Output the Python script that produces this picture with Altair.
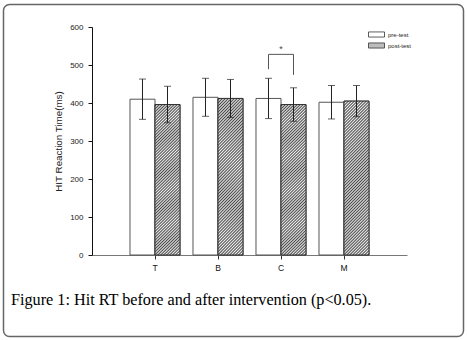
import altair as alt
import pandas as pd

# ---- data ----
categories = ["T", "B", "C", "M"]
groups = ["pre-test", "post-test"]
pre_mean = [410, 415, 412, 402]
pre_sd = [53, 50, 53, 44]
post_mean = [396, 412, 396, 405]
post_sd = [48, 50, 44, 41]
y_ticks = [0, 100, 200, 300, 400, 500, 600]

bracket_cat = "C"
bracket_top = 528
bracket_left_bottom = 489
bracket_right_bottom = 474
star_value = 541

y_title = "HIT Reaction Time(ms)"
caption = "Figure 1: Hit RT before and after intervention (p<0.05)."

# ---- tables ----
rows = []
for i, c in enumerate(categories):
    rows.append(dict(cat=c, grp="pre-test", mean=pre_mean[i],
                     lo=pre_mean[i] - pre_sd[i], hi=pre_mean[i] + pre_sd[i]))
    rows.append(dict(cat=c, grp="post-test", mean=post_mean[i],
                     lo=post_mean[i] - post_sd[i], hi=post_mean[i] + post_sd[i]))
df = pd.DataFrame(rows)

bracket_df = pd.DataFrame({
    "cat": [bracket_cat] * 4,
    "grp": ["pre-test", "pre-test", "post-test", "post-test"],
    "v": [bracket_left_bottom, bracket_top, bracket_top, bracket_right_bottom],
    "o": [0, 1, 2, 3],
})
star_df = pd.DataFrame({"cat": [bracket_cat], "v": [star_value], "t": ["*"]})
one_df = pd.DataFrame({"t": [caption]})

# ---- hatch fill (diagonal stripes via a soft triangle-wave gradient) ----
period_count = 60
stops = []
for k in range(period_count):
    a = k / period_count
    m = (k + 0.5) / period_count
    stops += [
        {"offset": a, "color": "#eeeeee"},
        {"offset": m, "color": "#4a4a4a"},
    ]
stops.append({"offset": 1, "color": "#eeeeee"})
hatch_fill = {"gradient": "linear", "x1": 0, "y1": 0, "x2": 0.185, "y2": 1.133,
              "stops": stops}

# ---- scales / encodings ----
xscale = alt.Scale(domain=categories, paddingInner=0.206, paddingOuter=0.603)
xoffscale = alt.Scale(domain=groups, paddingInner=0, paddingOuter=0)
yscale = alt.Scale(domain=[0, 600], nice=False, zero=True)

xaxis = alt.Axis(title=None, labelAngle=0, domainColor="#777", domainWidth=1,
                 tickColor="#333", tickSize=4, labelPadding=4, labelFontSize=8.5,
                 labelColor="#111", labelFont="Liberation Sans", grid=False)
yaxis = alt.Axis(values=y_ticks, title=y_title, grid=False, domainColor="#111",
                 tickColor="#111", tickSize=4, labelPadding=5, labelFontSize=8,
                 labelColor="#222", labelFont="Liberation Sans",
                 titleFont="Liberation Sans", titleFontSize=9.8,
                 titleFontWeight="normal", titleColor="#222", titlePadding=6)

X = alt.X("cat:N", scale=xscale, sort=categories, axis=xaxis)
XO = alt.XOffset("grp:N", scale=xoffscale, sort=groups)

legend = alt.Legend(title=None, orient="none", legendX=280, legendY=3,
                    symbolType="M-2,-0.64H2V0.64H-2Z", symbolSize=64,
                    symbolStrokeColor="#333", symbolStrokeWidth=0.8,
                    labelFontSize=6, labelFont="Liberation Sans",
                    labelColor="#222", labelOffset=7, rowPadding=2, padding=0)

bars = alt.Chart(df).mark_bar(stroke="#555", strokeWidth=1).encode(
    x=X, xOffset=XO,
    y=alt.Y("mean:Q", scale=yscale, axis=yaxis),
    fill=alt.Fill("grp:N", scale=alt.Scale(domain=groups, range=["#ffffff", "#bdbdbd"]),
                  legend=legend),
)

hatch = alt.Chart(df).transform_filter(alt.datum.grp == "post-test").mark_bar(
    fill=hatch_fill, stroke="#333", strokeWidth=1
).encode(x=X, xOffset=XO, y=alt.Y("mean:Q", scale=yscale, axis=yaxis))

err = alt.Chart(df).mark_rule(color="#222", strokeWidth=1).encode(
    x=X, xOffset=XO,
    y=alt.Y("lo:Q", scale=yscale, axis=yaxis), y2="hi:Q")

cap_hi = alt.Chart(df).mark_tick(color="#222", thickness=1, size=7,
                                 orient="horizontal").encode(
    x=X, xOffset=XO, y=alt.Y("hi:Q", scale=yscale, axis=yaxis))
cap_lo = alt.Chart(df).mark_tick(color="#222", thickness=1, size=7,
                                 orient="horizontal").encode(
    x=X, xOffset=XO, y=alt.Y("lo:Q", scale=yscale, axis=yaxis))

bracket = alt.Chart(bracket_df).mark_line(color="#555", strokeWidth=1).encode(
    x=X, xOffset=XO, y=alt.Y("v:Q", scale=yscale, axis=yaxis), order="o:Q")

star = alt.Chart(star_df).mark_text(color="#444", fontSize=9,
                                    font="Liberation Sans", baseline="middle").encode(
    x=X, y=alt.Y("v:Q", scale=yscale, axis=yaxis), text="t:N")

caption_mark = alt.Chart(one_df).mark_text(
    align="left", baseline="alphabetic", font="Liberation Serif",
    fontSize=16.2, color="#000"
).encode(x=alt.value(-81), y=alt.value(278), text="t:N")

frame = alt.Chart(one_df).mark_rect(
    fillOpacity=0, stroke="#666", strokeWidth=1.5, cornerRadius=6
).encode(x=alt.value(-88.5), x2=alt.value(371.5),
         y=alt.value(-22.5), y2=alt.value(309.5))

chart = alt.layer(
    bars, hatch, err, cap_hi, cap_lo, bracket, star, caption_mark, frame
).properties(
    width=315, height=228,
    autosize=alt.AutoSizeParams(type="none"),
    padding={"left": 92, "top": 27, "right": 60, "bottom": 85},
    background="white",
).configure_view(stroke=None)

chart.save("out.html", embed_options={"renderer": "svg", "actions": False})
